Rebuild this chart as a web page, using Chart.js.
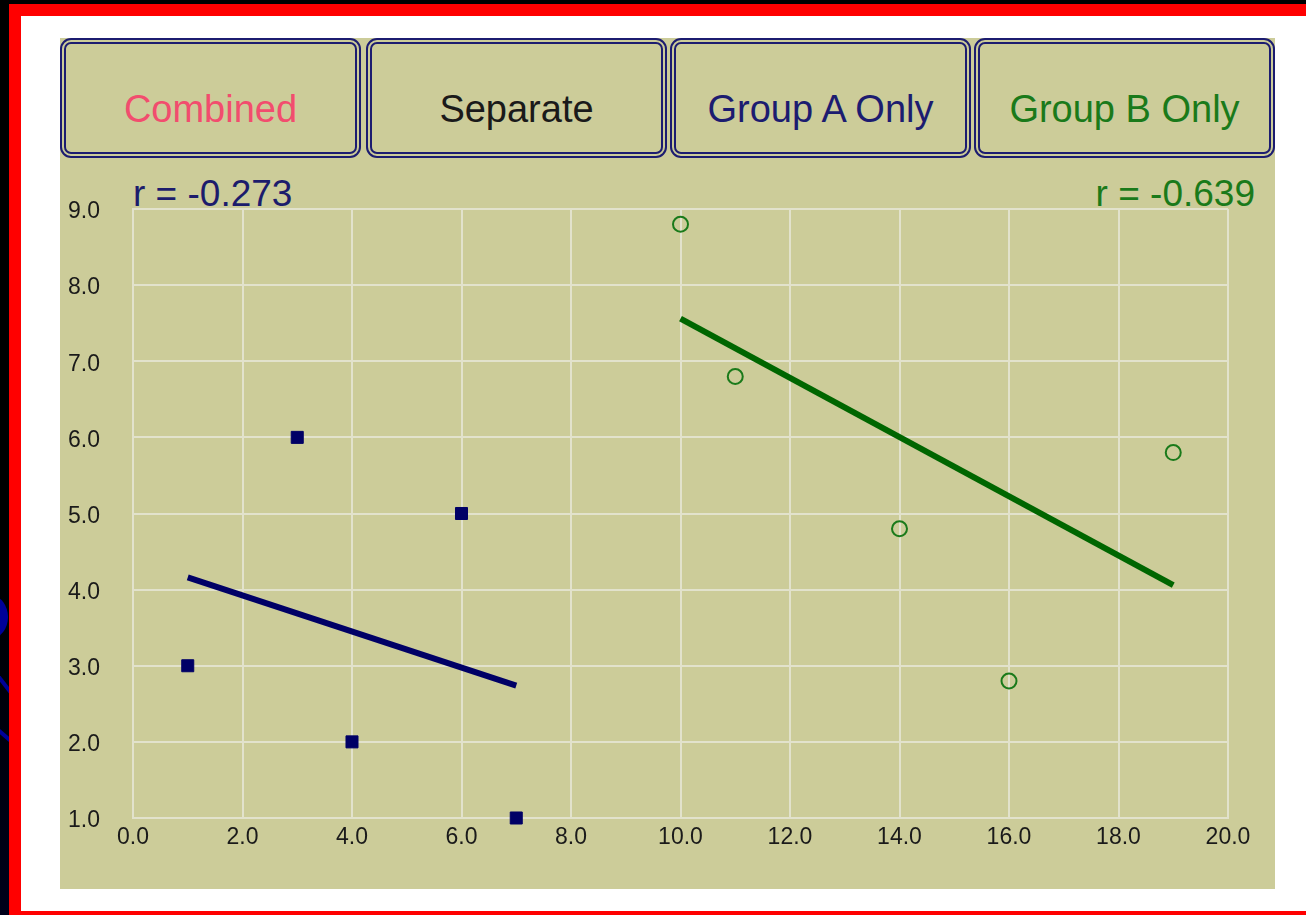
<!DOCTYPE html>
<html>
<head>
<meta charset="utf-8">
<title>Correlation - Separate groups</title>
<script src="https://cdn.jsdelivr.net/npm/chart.js@4/dist/chart.umd.min.js"></script>
<style>
    html, body { margin: 0; padding: 0; }
    body {
        width: 1306px; height: 915px; overflow: hidden; position: relative;
        background: linear-gradient(#000000 60%, #00001a);
        font-family: "Liberation Sans", Arial, sans-serif;
    }
    #frame { position: absolute; left: 9px; top: 4px; width: 1297px; height: 911px; background: #ff0000; }
    #paper { position: absolute; left: 21px; top: 16px; width: 1285px; height: 895px; background: #ffffff; }
    #panel { position: absolute; left: 60px; top: 38px; width: 1215px; height: 851px; background: #cccc99; }
    .btn {
        position: absolute; top: 0; width: 289px; height: 108px;
        border: 6px double #1c1c70; border-radius: 11px;
        text-align: center; font-size: 38px; line-height: 38px;
        box-sizing: content-box;
    }
    .btn span { display: block; padding-top: 46px; }
    .rtext { position: absolute; top: 137px; font-size: 37px; line-height: 37px; white-space: nowrap; }
    #chartBox { position: absolute; left: 0; top: 122px; width: 1215px; height: 729px; }
    #deco { position: absolute; left: 0; top: 0; }
</style>
</head>
<body>
<svg id="deco" width="9" height="915">
    <ellipse cx="-8" cy="617" rx="16" ry="21" fill="#000099"></ellipse>
    <line x1="-2" y1="676" x2="12" y2="694" stroke="#000099" stroke-width="4"></line>
    <line x1="-2" y1="730" x2="12" y2="742" stroke="#000099" stroke-width="4"></line>
</svg>
<div id="frame"></div>
<div id="paper"></div>
<div id="panel">
    <div class="btn" style="left:0px;color:#f24d6e;"><span>Combined</span></div>
    <div class="btn" style="left:306px;color:#1a1a1a;"><span>Separate</span></div>
    <div class="btn" style="left:610px;color:#1c1c70;"><span>Group A Only</span></div>
    <div class="btn" style="left:914px;color:#1a7a1a;"><span>Group B Only</span></div>
    <div class="rtext" style="left:73px;color:#1c1c6c;">r = -0.273</div>
    <div class="rtext" style="right:20px;color:#1a7a1a;">r = -0.639</div>
    <div id="chartBox"><canvas id="scatterChart"></canvas></div>
</div>

<script>
// Group A (filled squares)
const groupAX = [1, 3, 4, 6, 7];
const groupAY = [3, 6, 2, 5, 1];

// Group B (open circles)
const groupBX = [10, 11, 14, 16, 19];
const groupBY = [8.8, 6.8, 4.8, 2.8, 5.8];

// Fitted lines, end points
const fitAX = [1, 7];
const fitAY = [4.16, 2.74];
const fitBX = [10, 19];
const fitBY = [7.56, 4.06];

// Axis ticks
const xTicks = [0, 2, 4, 6, 8, 10, 12, 14, 16, 18, 20];
const yTicks = [1, 2, 3, 4, 5, 6, 7, 8, 9];

function toPoints(xs, ys) {
    return xs.map((x, i) => ({ x: x, y: ys[i] }));
}

const gridColor = '#e2e2cc';
const tickFont = { family: '"Liberation Sans", Arial, sans-serif', size: 23 };

const ctx = document.getElementById('scatterChart');
new Chart(ctx, {
    type: 'scatter',
    data: {
        datasets: [
            {
                label: 'Group A fit',
                data: toPoints(fitAX, fitAY),
                showLine: true,
                borderColor: '#000066',
                borderWidth: 6,
                pointRadius: 0,
                clip: false
            },
            {
                label: 'Group B fit',
                data: toPoints(fitBX, fitBY),
                showLine: true,
                borderColor: '#006600',
                borderWidth: 6,
                pointRadius: 0,
                clip: false
            },
            {
                label: 'Group A',
                data: toPoints(groupAX, groupAY),
                pointStyle: 'rect',
                pointRadius: 8.5,
                borderWidth: 1,
                backgroundColor: '#000066',
                borderColor: '#000066',
                clip: false
            },
            {
                label: 'Group B',
                data: toPoints(groupBX, groupBY),
                pointStyle: 'circle',
                pointRadius: 7.5,
                borderWidth: 2,
                backgroundColor: 'rgba(0,0,0,0)',
                borderColor: '#1a7a1a',
                clip: false
            }
        ]
    },
    options: {
        responsive: true,
        maintainAspectRatio: false,
        animation: false,
        layout: { padding: { left: 0, right: 47, top: 49, bottom: 0 } },
        plugins: {
            legend: { display: false },
            tooltip: { enabled: false }
        },
        scales: {
            x: {
                type: 'linear',
                min: xTicks[0],
                max: xTicks[xTicks.length - 1],
                afterBuildTicks: (scale) => { scale.ticks = xTicks.map(v => ({ value: v })); },
                afterFit: (scale) => { scale.height = 71; },
                grid: { color: gridColor, lineWidth: 2, drawTicks: false },
                border: { color: gridColor, width: 2 },
                ticks: {
                    padding: 6,
                    color: '#1a1a1a',
                    font: tickFont,
                    maxRotation: 0,
                    autoSkip: false,
                    callback: (v) => Number(v).toFixed(1)
                }
            },
            y: {
                type: 'linear',
                min: yTicks[0],
                max: yTicks[yTicks.length - 1],
                afterBuildTicks: (scale) => { scale.ticks = yTicks.map(v => ({ value: v })); },
                afterFit: (scale) => { scale.width = 73; },
                grid: { color: gridColor, lineWidth: 2, drawTicks: false },
                border: { color: gridColor, width: 2 },
                ticks: {
                    padding: 33,
                    labelOffset: 3,
                    color: '#1a1a1a',
                    font: tickFont,
                    autoSkip: false,
                    callback: (v) => Number(v).toFixed(1)
                }
            }
        }
    }
});
</script>
</body>
</html>
